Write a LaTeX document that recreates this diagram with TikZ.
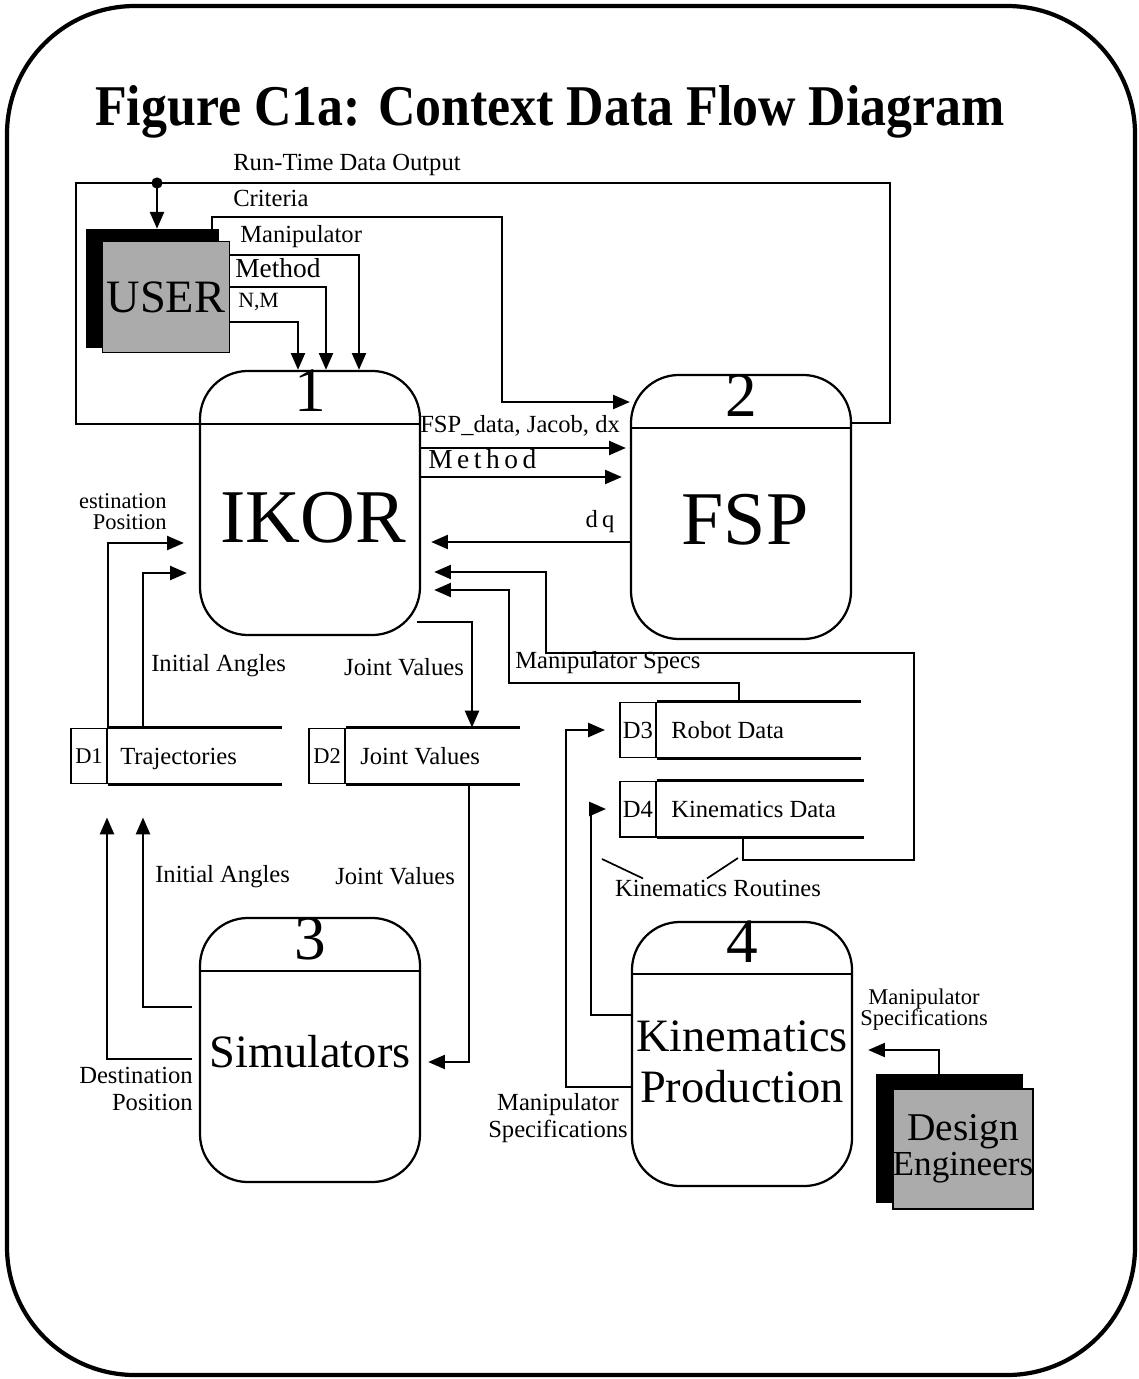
\documentclass[tikz,border=0pt]{standalone}
\usepackage{fontspec}
\setmainfont{Liberation Serif}
\usepackage{graphicx}
\usetikzlibrary{arrows.meta, positioning, calc}

\tikzstyle{process} = [
  rectangle, rounded corners=1.2cm, minimum width=5.5cm, minimum height=6.6cm,
  draw=black, line width=1.6pt
]
\tikzstyle{procnum} = [inner sep=0pt, font=\fontsize{45}{45}\selectfont]
\tikzstyle{procname} = [inner sep=0pt, align=center, font=\fontsize{33}{36}\selectfont]
\tikzstyle{entity} = [
  rectangle, draw=black, line width=1.2pt, fill=black!33,
  align=center, inner sep=0pt
]
\tikzstyle{entityshadow} = [rectangle, draw=black, fill=black, inner sep=0pt]
\tikzstyle{storeid} = [
  rectangle, draw=black, line width=1.4pt, minimum width=0.9cm, minimum height=1.375cm,
  inner sep=1pt, font=\fontsize{16}{16}\selectfont
]
\tikzstyle{storetext} = [inner sep=0pt, text height=12pt, text depth=0pt,
  font=\fontsize{17.5}{17.5}\selectfont]
\tikzstyle{lbl} = [inner sep=0pt, font=\fontsize{17.5}{19}\selectfont]
\tikzstyle{lblsmall} = [inner sep=0pt, align=center, font=\fontsize{16}{15}\selectfont]
\tikzset{
  arrow/.style={
    line width=1.6pt,
    -{Triangle[length=0.42cm,width=0.35cm]}
  },
  flowline/.style={line width=1.6pt}
}

\begin{document}
\begin{tikzpicture}[x=0.025cm, y=-0.025cm]

\useasboundingbox (0,0) rectangle (1138,1379);

% ------------------------------------------------
% MARCO Y TITULO
% ------------------------------------------------

\draw[line width=3pt, rounded corners=3.2cm] (7,6) rectangle (1135,1375);

\node[inner sep=0pt] (title) at (550,112) {%
  \scalebox{0.90}[1]{\fontsize{41}{41}\selectfont\bfseries Figure C1a: Context Data Flow Diagram}
};

% ------------------------------------------------
% PROCESOS
% ------------------------------------------------

\node[process] (ikor) at (310,503) {};
\node[procnum, below=0pt of ikor.north] (num1) {1};
\node[procname, font=\fontsize{54}{54}\selectfont] (ikorname) at (313,518) {IKOR};

\node[process] (fsp) at (741,507) {};
\node[procnum, below=0pt of fsp.north] (num2) {2};
\node[procname, font=\fontsize{54}{54}\selectfont] (fspname) at (745,520) {FSP};

\node[process] (sim) at (310,1050) {};
\node[procnum, below=0pt of sim.north] (num3) {3};
\node[procname] (simname) at (310,1052) {Simulators};

\node[process] (kp) at (742,1054) {};
\node[procnum, below=0pt of kp.north] (num4) {4};
\node[procname] (kpname) at (742,1062) {Kinematics\\Production};

\draw[flowline] ($(ikor.north west)+(0,54)$) -- ($(ikor.north east)+(0,54)$);
\draw[flowline] ($(fsp.north west)+(0,54)$) -- ($(fsp.north east)+(0,54)$);
\draw[flowline] ($(sim.north west)+(0,54)$) -- ($(sim.north east)+(0,54)$);
\draw[flowline] ($(kp.north west)+(0,53)$) -- ($(kp.north east)+(0,53)$);

% ------------------------------------------------
% ENTIDADES EXTERNAS
% ------------------------------------------------

\node[entityshadow, minimum width=3.3cm, minimum height=2.95cm] (usersh) at (152,288) {};
\node[entity, minimum width=3.175cm, minimum height=2.775cm,
  font=\fontsize{33}{33}\selectfont] (user) at (166,297) {USER};

\node[entityshadow, minimum width=3.65cm, minimum height=3.2cm] (desh) at (949,1138) {};
\node[entity, minimum width=3.475cm, minimum height=3cm,
  font=\fontsize{25}{25}\selectfont] (design) at (963,1149) {{\fontsize{28}{28}\selectfont Design}\\Engineers};

% ------------------------------------------------
% ALMACENES DE DATOS
% ------------------------------------------------

\node[storeid] (d1) at (89,756) {D1};
\node[storetext, right=0.3cm of d1] (traj) {Trajectories};
\draw[flowline] (d1.north east) -- ++(174,0);
\draw[flowline] (d1.south east) -- ++(174,0);

\node[storeid] (d2) at (327,756) {D2};
\node[storetext, right=0.35cm of d2] (jv) {Joint Values};
\draw[flowline] (d2.north east) -- ++(174,0);
\draw[flowline] (d2.south east) -- ++(174,0);

\node[storeid, font=\fontsize{17.5}{17.5}\selectfont] (d3) at (638,730) {D3};
\node[storetext, right=0.35cm of d3] (robot) {Robot Data};
\draw[flowline] (d3.north east) -- ++(204,0);
\draw[flowline] (d3.south east) -- ++(204,0);

\node[storeid, font=\fontsize{17.5}{17.5}\selectfont] (d4) at (638,809) {D4};
\node[storetext, right=0.35cm of d4] (kin) {Kinematics Data};
\draw[flowline] (d4.north east) -- ++(207,0);
\draw[flowline] (d4.south east) -- ++(207,0);

% ------------------------------------------------
% FLUJOS SUPERIORES (USER, FSP)
% ------------------------------------------------

\coordinate (rtdot) at (157,183);
\draw[flowline] (fsp.east |- 0,423) -- (890,423) -- (890,183) -- (76,183)
  -- (76,424) -- (ikor.west |- 0,424);
\fill (rtdot) circle (0.14cm);
\draw[arrow] (rtdot) -- (rtdot |- usersh.north);
\node[lbl, anchor=west] (rtlabel) at (233,165) {Run-Time Data Output};

\draw[arrow] (usersh.north -| 212,0) |- (502,217) |- (fsp.west |- 0,402);
\node[lbl, anchor=west] (critlabel) at (233,198) {Criteria};

\draw[arrow] (user.east |- 0,255) -| (ikor.north -| 359,0);
\draw[arrow] (user.east |- 0,287) -| (ikor.north -| 326,0);
\draw[arrow] (user.east |- 0,322) -| (ikor.north -| 298,0);
\node[lbl, anchor=west] (manlabel) at (240,237) {Manipulator};
\node[lbl, anchor=west, font=\fontsize{19.5}{19.5}\selectfont] (methlabel) at (235,268) {Method};
\node[lbl, anchor=west, font=\fontsize{15.5}{15.5}\selectfont] (nmlabel) at (238,302) {N,M};

% ------------------------------------------------
% FLUJOS IKOR <-> FSP
% ------------------------------------------------

\draw[arrow, shorten >=0.1cm] (ikor.east |- 0,448) -- (fsp.west |- 0,448);
\node[lbl, anchor=west] (fsplabel) at (420,426) {FSP\_data, Jacob, dx};

\draw[arrow, shorten >=0.2cm] (ikor.east |- 0,477) -- (fsp.west |- 0,477);
\node[lbl, anchor=west, font=\fontsize{19.5}{19.5}\selectfont] (meth2label) at (428,459) {M\,e\,t\,h\,o\,d};

\draw[arrow, shorten >=0.25cm] (fsp.west |- 0,542) -- (ikor.east |- 0,542);
\node[lbl] (dqlabel) at (600,522) {d\,q};

% ------------------------------------------------
% FLUJOS DE LOS ALMACENES
% ------------------------------------------------

\draw[arrow, shorten >=0.325cm] (d3.north -| 739,0) |- (509,683) |- (ikor.east |- 0,590);
\draw[arrow, shorten >=0.325cm] (d4.south -| 743,0) |- (914,860) |- (546,653) |- (ikor.east |- 0,572);
\node[lbl, anchor=west] (msplabel) at (515,663) {Manipulator Specs};

\draw[arrow] ($(ikor.east |- 0,622)+(-4,0)$) -| (d2.north -| 472,0);
\node[lbl] (jvlabel) at (404,667) {Joint Values};

\draw[arrow, shorten >=0.175cm] (d2.south -| 469,0) |- (sim.east |- 0,1062);
\node[lbl, anchor=west] (jv2label) at (335,876) {Joint Values};

\draw[arrow, shorten >=0.375cm] (d1.north -| 108,0) |- (ikor.west |- 0,543);
\draw[arrow, shorten >=0.3cm] (d1.north -| 143,0) |- (ikor.west |- 0,573);
\node[lblsmall, align=right, anchor=east] (dplabel) at (167,512) {estination\\Position};
\node[lbl, anchor=west] (ialabel) at (151,666) {Initial Angles};

\draw[arrow, shorten >=0.825cm, shorten <=0.175cm] (sim.west |- 0,1007) -| (d1.south -| 143,0);
\draw[arrow, shorten >=0.825cm, shorten <=0.175cm] (sim.west |- 0,1059) -| (d1.south -| 107,0);
\node[lbl, anchor=west] (ia2label) at (155,877) {Initial Angles};
\node[lbl, align=right, anchor=east] (dp2label) at (193,1089) {Destination\\Position};

\draw[arrow, shorten >=0.35cm] (kp.west |- 0,1087) -| (d3.west -| 566,0) -- (d3.west);
\draw[arrow, shorten >=0.325cm] (kp.west |- 0,1015) -| (d4.west -| 591,0) -- (d4.west);
\node[lbl, align=center] (ms2label) at (558,1118) {Manipulator\\Specifications};

\node[lbl] (krlabel) at (718,888) {Kinematics Routines};
\draw[line width=1.2pt] ($(krlabel.north)+(-75,-1)$) -- (602,859);
\draw[line width=1.2pt] ($(krlabel.north)+(-11,-1)$) -- (738,858);

\draw[arrow, shorten >=0.375cm] (desh.north -| 939,0) |- (kp.east |- 0,1050);
\node[lblsmall] (ms3label) at (924,1010) {Manipulator\\Specifications};

\end{tikzpicture}
\end{document}
